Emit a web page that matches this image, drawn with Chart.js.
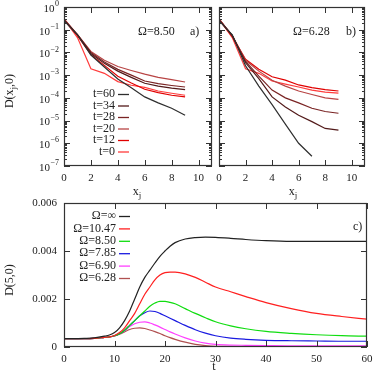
<!DOCTYPE html>
<html>
<head>
<meta charset="utf-8">
<script src="https://cdn.jsdelivr.net/npm/chart.js@4/dist/chart.umd.min.js"></script>
<style>
  html, body { margin: 0; padding: 0; background: #fff; }
  #wrap { position: relative; width: 374px; height: 375px; }
  #wrap canvas { position: absolute; left: 0; top: 0; }
</style>
</head>
<body>
<div id="wrap">
  <canvas id="pa" width="374" height="375"></canvas>
  <canvas id="pb" width="374" height="375"></canvas>
  <canvas id="pc" width="374" height="375"></canvas>
</div>
<script>
// ---- data ----
const xj = [0, 1, 2, 3, 4, 5, 6, 7, 8, 9];
const tNames = ['t=60', 't=34', 't=28', 't=20', 't=12', 't=0'];
const tColors = ['#2e2e2e', '#521a1a', '#7a2424', '#b84444', '#e00000', '#ff3c3c'];

// panel a, Omega = 8.50
const a_t60 = [0.25, 0.06, 0.0077, 0.0023, 0.00068, 0.00028, 0.00011, 0.00006, 0.000035, 0.000017];
const a_t34 = [0.27, 0.06, 0.009, 0.0033, 0.0015, 0.0008, 0.00044, 0.00033, 0.00027, 0.00023];
const a_t28 = [0.28, 0.06, 0.01, 0.0038, 0.0018, 0.001, 0.00055, 0.00042, 0.00035, 0.0003];
const a_t20 = [0.3, 0.06, 0.011, 0.0045, 0.0024, 0.0016, 0.0011, 0.0008, 0.00063, 0.0005];
const a_t12 = [0.3, 0.055, 0.008, 0.0027, 0.0009, 0.00045, 0.00024, 0.00017, 0.00013, 0.00011];
const a_t0  = [0.3, 0.045, 0.0019, 0.0012, 0.00052, 0.00036, 0.00029, 0.0002, 0.00016, 0.00013];

// panel b, Omega = 6.28 (t=60 stops at x=7)
const b_t60 = [0.25, 0.06, 0.0026, 0.00033, 0.00005, 0.000007, 0.000001, 0.00000027];
const b_t34 = [0.28, 0.055, 0.0035, 0.0007, 0.00011, 0.00004, 0.000017, 0.000009, 0.0000045, 0.0000038];
const b_t28 = [0.28, 0.055, 0.004, 0.0009, 0.00022, 0.0001, 0.00006, 0.000035, 0.000025, 0.000021];
const b_t20 = [0.3, 0.055, 0.0045, 0.0015, 0.0006, 0.00033, 0.0002, 0.00014, 0.0001, 0.000085];
const b_t12 = [0.3, 0.05, 0.005, 0.0018, 0.00085, 0.0006, 0.00037, 0.00028, 0.00023, 0.0002];
const b_t0  = [0.3, 0.045, 0.0019, 0.0012, 0.00055, 0.0004, 0.0003, 0.00022, 0.00018, 0.00016];

// panel c, D(5,0) vs t
const tt = [0, 2, 4, 6, 8, 9, 10, 11, 12, 13, 14, 15, 16, 17, 18, 19, 20, 21, 22, 24, 26, 28, 30, 33, 36, 40, 45, 50, 55, 60];
const omNames = ['Ω=∞', 'Ω=10.47', 'Ω=8.50', 'Ω=7.85', 'Ω=6.90', 'Ω=6.28'];
const omColors = ['#222222', '#ff2020', '#10dd10', '#1a1ae0', '#ff40ff', '#b05050'];
const c_inf  = [0.00035, 0.00035, 0.00036, 0.00038, 0.00045, 0.0005, 0.0006, 0.0008, 0.0011, 0.0015, 0.002, 0.0025, 0.0029, 0.0032, 0.0035, 0.00378, 0.004, 0.0042, 0.00435, 0.0045, 0.00456, 0.00458, 0.00457, 0.00453, 0.00448, 0.00443, 0.0044, 0.0044, 0.0044, 0.0044];
const c_1047 = [0.00035, 0.00035, 0.00035, 0.00036, 0.0004, 0.00042, 0.00048, 0.0006, 0.0008, 0.0011, 0.0014, 0.0018, 0.0022, 0.0025, 0.0028, 0.003, 0.0031, 0.00312, 0.00312, 0.00305, 0.0029, 0.0027, 0.0025, 0.0023, 0.0021, 0.00185, 0.0016, 0.0014, 0.00127, 0.00116];
const c_850  = [0.00035, 0.00035, 0.00035, 0.00036, 0.0004, 0.00042, 0.00047, 0.00055, 0.0007, 0.0009, 0.0011, 0.0013, 0.0015, 0.0017, 0.00183, 0.0019, 0.0019, 0.00186, 0.0018, 0.0016, 0.0014, 0.00122, 0.00105, 0.00088, 0.00076, 0.00065, 0.00057, 0.00051, 0.00047, 0.00045];
const c_785  = [0.00035, 0.00035, 0.00035, 0.00036, 0.0004, 0.00042, 0.00047, 0.00055, 0.0007, 0.0009, 0.0011, 0.0013, 0.00143, 0.0015, 0.00148, 0.0014, 0.0013, 0.0012, 0.0011, 0.0009, 0.00072, 0.00058, 0.00047, 0.00037, 0.00032, 0.00028, 0.00026, 0.00025, 0.00024, 0.00024];
const c_690  = [0.00035, 0.00035, 0.00035, 0.00036, 0.0004, 0.00042, 0.00047, 0.00055, 0.00068, 0.00085, 0.00097, 0.00103, 0.00105, 0.001, 0.00092, 0.00083, 0.00073, 0.00063, 0.00054, 0.00038, 0.00025, 0.00016, 0.00011, 0.00008, 0.00007, 0.00006, 0.00005, 0.00005, 0.00005, 0.00005];
const c_628  = [0.00035, 0.00035, 0.00035, 0.00036, 0.0004, 0.00042, 0.00046, 0.00053, 0.00063, 0.00073, 0.00078, 0.0008, 0.00077, 0.00071, 0.00064, 0.00056, 0.00047, 0.00039, 0.00032, 0.0002, 0.00011, 0.00006, 0.00003, 0.00002, 0.00001, 0.00001, 0.00001, 0.00001, 0.00001, 0.00001];

// tick labels
const abXTicks = [0, 2, 4, 6, 8, 10];
const logExps = [0, -1, -2, -3, -4, -5, -6, -7];
const cXTicks = [0, 10, 20, 30, 40, 50, 60];
const cYTicks = [0, 0.002, 0.004, 0.006];
const cYLabels = ['0', '0.002', '0.004', '0.006'];

const W = 374, H = 375;
const SERIF = '"Liberation Serif", "DejaVu Serif", serif';

// draw text made of pieces: [text, 'n' | 'sub' | 'sup']
function richText(ctx, parts, x, y, align, size) {
  const big = size + 'px ' + SERIF, small = Math.round(size * 0.72) + 'px ' + SERIF;
  let total = 0;
  parts.forEach(p => { ctx.font = p[1] === 'n' ? big : small; total += ctx.measureText(p[0]).width; });
  let cx = align === 'right' ? x - total : align === 'center' ? x - total / 2 : x;
  ctx.textAlign = 'left'; ctx.textBaseline = 'middle';
  parts.forEach(p => {
    ctx.font = p[1] === 'n' ? big : small;
    const dy = p[1] === 'sub' ? size * 0.3 : p[1] === 'sup' ? -size * 0.4 : 0;
    ctx.fillText(p[0], cx, y + dy);
    cx += ctx.measureText(p[0]).width;
  });
}

function decor(cfg) {
  return {
    id: 'decor',
    afterDraw(chart) {
      const { ctx, chartArea: ca, scales } = chart;
      const xs = scales.x, ys = scales.y;
      ctx.save();
      ctx.strokeStyle = '#333'; ctx.lineWidth = 1;
      ctx.beginPath();
      cfg.xTicks.forEach(v => {
        const px = Math.round(xs.getPixelForValue(v)) + 0.5;
        ctx.moveTo(px, ca.bottom); ctx.lineTo(px, ca.bottom - 6);
        ctx.moveTo(px, ca.top); ctx.lineTo(px, ca.top + 6);
      });
      const yMajor = cfg.log ? logExps.map(e => Math.pow(10, e)) : cYTicks;
      yMajor.forEach(v => {
        const py = Math.round(ys.getPixelForValue(v)) + 0.5;
        ctx.moveTo(ca.left, py); ctx.lineTo(ca.left + 6, py);
        ctx.moveTo(ca.right, py); ctx.lineTo(ca.right - 6, py);
      });
      if (cfg.log) {
        logExps.slice(1).forEach(e => {
          for (let m = 2; m <= 9; m++) {
            const py = Math.round(ys.getPixelForValue(m * Math.pow(10, e))) + 0.5;
            ctx.moveTo(ca.left, py); ctx.lineTo(ca.left + 3, py);
            ctx.moveTo(ca.right, py); ctx.lineTo(ca.right - 3, py);
          }
        });
      }
      ctx.stroke();
      ctx.lineWidth = 1.2;
      ctx.strokeRect(ca.left + 0.5, ca.top + 0.5, ca.width - 1, ca.height - 1);

      ctx.fillStyle = '#222';
      ctx.font = '11px ' + SERIF; ctx.textAlign = 'center'; ctx.textBaseline = 'middle';
      cfg.xTicks.forEach(v => ctx.fillText(String(v), xs.getPixelForValue(v), ca.bottom + 12));

      if (cfg.yLab === 'log') {
        logExps.forEach(e => {
          const py = ys.getPixelForValue(Math.pow(10, e));
          const ex = e === 0 ? '0' : '−' + (-e);
          ctx.font = '8px ' + SERIF;
          const ew = ctx.measureText(ex).width;
          ctx.textAlign = 'left'; ctx.textBaseline = 'middle';
          ctx.fillText(ex, 59 - ew, py - 3);
          ctx.font = '11px ' + SERIF; ctx.textAlign = 'right';
          ctx.fillText('10', 59 - ew - 0.5, py + 2);
        });
      } else if (cfg.yLab === 'lin') {
        ctx.font = '11px ' + SERIF; ctx.textAlign = 'right'; ctx.textBaseline = 'middle';
        cYTicks.forEach((v, i) => ctx.fillText(cYLabels[i], 57, ys.getPixelForValue(v)));
      }

      // axis titles
      cfg.xTitle.forEach(t => richText(ctx, t.parts, t.x, t.y, 'center', 12));
      if (cfg.yTitle) {
        ctx.save();
        ctx.translate(cfg.yTitle.x, cfg.yTitle.y); ctx.rotate(-Math.PI / 2);
        richText(ctx, cfg.yTitle.parts, 0, 0, 'center', 12);
        ctx.restore();
      }

      // free labels
      ctx.font = '12px ' + SERIF; ctx.textAlign = 'left'; ctx.textBaseline = 'middle';
      cfg.labels.forEach(l => ctx.fillText(l.text, l.x, l.y));

      // key
      if (cfg.key) {
        const k = cfg.key;
        chart.data.datasets.forEach((ds, i) => {
          const y = k.y0 + i * k.dy;
          ctx.fillStyle = '#222'; ctx.font = '12px ' + SERIF;
          ctx.textAlign = 'right'; ctx.textBaseline = 'middle';
          ctx.fillText(ds.label, k.x, y);
          ctx.strokeStyle = ds.borderColor; ctx.lineWidth = 1.3;
          ctx.beginPath(); ctx.moveTo(k.x + 3, y + 0.5); ctx.lineTo(k.x + 14, y + 0.5); ctx.stroke();
        });
      }
      ctx.restore();
    }
  };
}

function lineSets(xs, series, names, colors, smooth) {
  return series.map((arr, i) => ({
    label: names[i],
    data: arr.map((v, j) => ({ x: xs[j], y: v })),
    borderColor: colors[i],
    borderWidth: 1.2,
    pointRadius: 0,
    fill: false,
    tension: 0,
    cubicInterpolationMode: smooth ? 'monotone' : 'default'
  }));
}

function makeChart(id, box, datasets, xr, yScale, cfg) {
  new Chart(document.getElementById(id), {
    type: 'line',
    data: { datasets },
    options: {
      responsive: false,
      animation: false,
      events: [],
      layout: { padding: { left: 0, top: box.top, right: W - box.right, bottom: 0 } },
      plugins: { legend: { display: false }, tooltip: { enabled: false } },
      scales: {
        x: {
          type: 'linear', min: xr[0], max: xr[1],
          ticks: { display: false }, grid: { display: false }, border: { display: false },
          afterFit: s => { s.height = H - box.bottom; }
        },
        y: Object.assign({
          ticks: { display: false }, grid: { display: false }, border: { display: false },
          afterFit: s => { s.width = box.left; }
        }, yScale)
      }
    },
    plugins: [decor(cfg)]
  });
}

const xjTitle = [['x', 'n'], ['j', 'sub']];

makeChart('pa', { left: 64, right: 212, top: 7, bottom: 166 },
  lineSets(xj, [a_t60, a_t34, a_t28, a_t20, a_t12, a_t0], tNames, tColors, false),
  [0, 11], { type: 'logarithmic', min: 1e-7, max: 1 },
  {
    log: true, yLab: 'log', xTicks: abXTicks,
    xTitle: [{ parts: xjTitle, x: 137, y: 192 }],
    yTitle: { x: 10, y: 91, parts: [['D(x', 'n'], ['j', 'sub'], [',0)', 'n']] },
    labels: [{ text: 'Ω=8.50', x: 138, y: 32 }, { text: 'a)', x: 190, y: 32 }],
    key: { x: 115, y0: 94, dy: 11.5 }
  });

makeChart('pb', { left: 219, right: 365, top: 7, bottom: 166 },
  lineSets(xj, [b_t60, b_t34, b_t28, b_t20, b_t12, b_t0], tNames, tColors, false),
  [0, 11], { type: 'logarithmic', min: 1e-7, max: 1 },
  {
    log: true, yLab: 'none', xTicks: abXTicks,
    xTitle: [{ parts: xjTitle, x: 293, y: 192 }],
    yTitle: null,
    labels: [{ text: 'Ω=6.28', x: 293, y: 32 }, { text: 'b)', x: 346, y: 32 }],
    key: null
  });

makeChart('pc', { left: 64, right: 367, top: 203, bottom: 347 },
  lineSets(tt, [c_inf, c_1047, c_850, c_785, c_690, c_628], omNames, omColors, true),
  [0, 60], { type: 'linear', min: 0, max: 0.006 },
  {
    log: false, yLab: 'lin', xTicks: cXTicks,
    xTitle: [{ parts: [['t', 'n']], x: 214, y: 367 }],
    yTitle: { x: 10, y: 280, parts: [['D(5,0)', 'n']] },
    labels: [{ text: 'c)', x: 353, y: 227 }],
    key: { x: 116, y0: 216, dy: 12.4 }
  });
</script>
</body>
</html>
